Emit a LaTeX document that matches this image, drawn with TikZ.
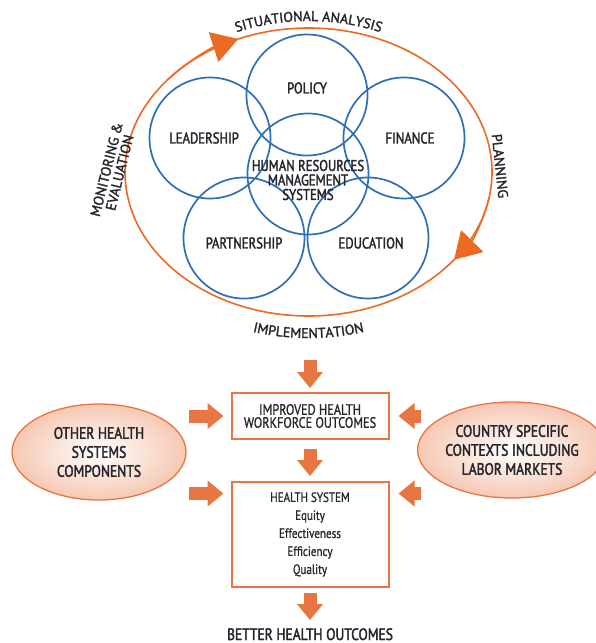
\documentclass[tikz,border=0pt]{standalone}
\usepackage{fontspec}
\setmainfont{PT Sans}
\newfontfamily\condfont[FakeStretch=0.82,FakeBold=1]{PT Sans}
\newfontfamily\heavyfont[FakeStretch=0.82,FakeBold=2.2]{PT Sans}
\newfontfamily\plainfont[FakeBold=2]{PT Sans}
\usetikzlibrary{arrows.meta,decorations.text,shapes.geometric,positioning}

\definecolor{cycleorange}{RGB}{236,106,36}
\definecolor{boxorange}{RGB}{232,118,66}
\definecolor{ringblue}{RGB}{46,110,182}
\definecolor{inkgray}{RGB}{38,38,46}
\newcommand\ringfont{\heavyfont\fontsize{15.5}{14.5}\selectfont}
\newcommand\cyclefont{\plainfont\fontsize{14}{13.5}\selectfont}
\newcommand\ctxfont{\heavyfont\fontsize{16.5}{19}\selectfont}
\newcommand\boxfont{\condfont\fontsize{13.5}{18}\selectfont}
\tikzstyle{ring} = [draw=ringblue, line width=1.7pt, circle, minimum size=121pt, inner sep=0pt]

\begin{document}
\begin{tikzpicture}[x=1pt,y=1pt,
			ringtext/.style={font=\ringfont, text=inkgray, align=center, inner sep=0pt},
			cycletext/.style={font=\cyclefont, text=inkgray, align=center, inner sep=0pt},
			curvetext/.style={decorate, decoration={text along path, text align=center, text color=inkgray, text={|\cyclefont|#1}}},
			outcome/.style={draw=boxorange, line width=2pt, fill=white, minimum width=157pt, font=\boxfont, text=inkgray, align=center},
			context/.style={ellipse, draw=boxorange, line width=1.3pt, inner color=white, outer color=boxorange!40, minimum width=174pt, minimum height=96pt, inner sep=0pt, font=\ctxfont, text=inkgray, align=center},
			bigarrow/.style={boxorange, line width=13pt, -{Triangle[length=16pt,width=25pt]}},
			cyclearrow/.style={cycleorange, line width=1.6pt, -{Triangle[length=26pt,width=31pt]}}]
			\useasboundingbox (0,0) rectangle (595,-643);
			
			\coordinate (cyc) at (308.5,-172);
			\draw[cycleorange, line width=1.6pt] (cyc) ellipse [x radius=183.5pt, y radius=144pt];
			\draw[cyclearrow] ([shift={(140:183.5pt and 144pt)}]cyc) arc[start angle=140, end angle=112.5, x radius=183.5pt, y radius=144pt];
			\draw[cyclearrow] ([shift={(-10:183.5pt and 144pt)}]cyc) arc[start angle=-10, end angle=-37.5, x radius=183.5pt, y radius=144pt];
			
			\node[ring] (policy) at (307,-95) {};
			\node[ring] (leader) at (210,-138) {};
			\node[ring] (finance) at (404,-138) {};
			\node[ring] (hrm) at (308,-174) {};
			\node[ring] (partner) at (244,-238) {};
			\node[ring] (educ) at (368,-238) {};
			
			\node[ringtext] at ([yshift=7pt]policy) {POLICY};
			\node[ringtext] at ([xshift=-6pt]leader) {LEADERSHIP};
			\node[ringtext] at ([xshift=6pt]finance) {FINANCE};
			\node[ringtext] at ([yshift=-6pt]hrm) {HUMAN RESOURCES\\MANAGEMENT\\SYSTEMS};
			\node[ringtext] at ([yshift=-5pt]partner) {PARTNERSHIP};
			\node[ringtext] at ([xshift=3pt,yshift=-5pt]educ) {EDUCATION};
			
			\path[curvetext=SITUATIONAL ANALYSIS] ([shift={(120:190.5pt and 151pt)}]cyc) arc[start angle=120, end angle=60, x radius=190.5pt, y radius=151pt];
			\path[curvetext=IMPLEMENTATION] ([shift={(245:205.5pt and 166pt)}]cyc) arc[start angle=245, end angle=295, x radius=205.5pt, y radius=166pt];
			\node[cycletext, rotate=76] (monitor) at (113,-171) {MONITORING \&\\EVALUATION};
			\node[cycletext, rotate=-84] (plan) at (500,-166) {PLANNING};
			\coordinate (impl) at (310,-333);
			
			\node[outcome, minimum height=46pt, font=\condfont\fontsize{15}{13}\selectfont] (wf) at (310,-416) {IMPROVED HEALTH\\WORKFORCE OUTCOMES};
			\node[outcome, minimum height=105pt] (hs) at (310,-534.5) {HEALTH SYSTEM\\Equity\\Effectiveness\\Efficiency\\Quality};
			\node[context] (other) at (99,-452) {OTHER HEALTH\\SYSTEMS\\COMPONENTS};
			\node[context] (country) at (512,-450) {COUNTRY SPECIFIC\\CONTEXTS INCLUDING\\LABOR MARKETS};
			\node[font=\ctxfont, text=inkgray, inner sep=0pt, anchor=base] (better) at (310,-640) {BETTER HEALTH OUTCOMES};
			\coordinate (hsin) at ([yshift=41pt]hs.east);
			\coordinate (hsout) at ([yshift=41pt]hs.west);
			
			\draw[bigarrow, shorten <=27pt, shorten >=4pt] (impl) -- (wf.north);
			\draw[bigarrow, shorten <=9pt, shorten >=5pt] (wf) -- (hs);
			\draw[bigarrow, shorten <=5pt, shorten >=8pt] (hs) -- (better);
			\draw[bigarrow, shorten <=2pt, shorten >=7pt] (other.east |- wf.west) -- (wf.west);
			\draw[bigarrow, shorten <=2pt, shorten >=7pt] (other.east |- hsout) -- (hsout);
			\draw[bigarrow, shorten <=-4pt, shorten >=9pt] (country.west |- wf.east) -- (wf.east);
			\draw[bigarrow, shorten <=-4pt, shorten >=9pt] (country.west |- hsin) -- (hsin);
		\end{tikzpicture}
\end{document}
